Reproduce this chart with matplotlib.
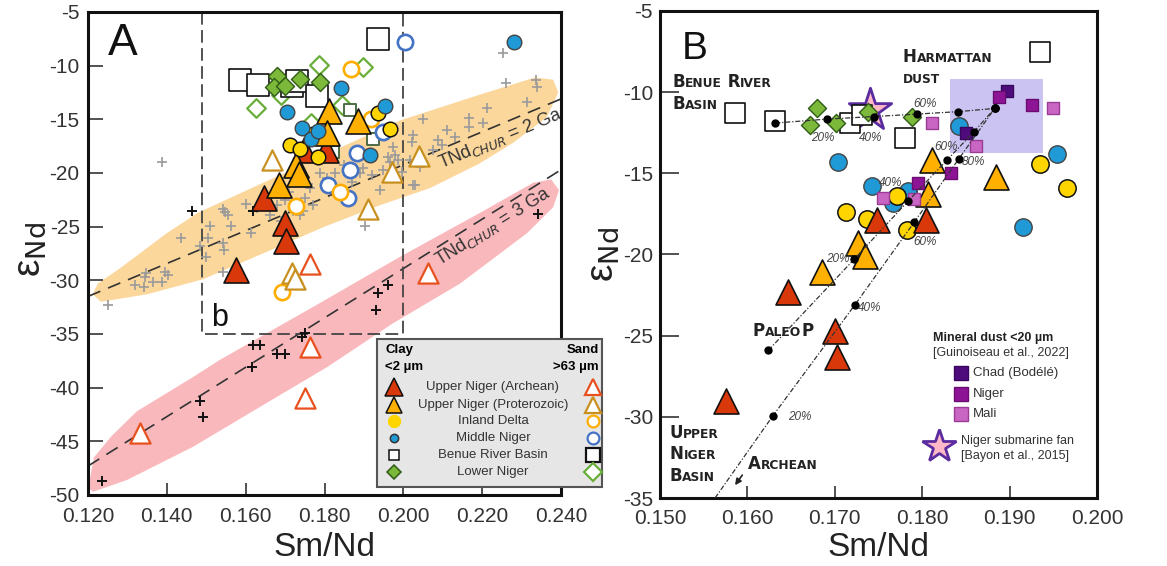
import matplotlib
matplotlib.use('Agg')
import matplotlib.pyplot as plt
from matplotlib.patches import Polygon, Rectangle
from matplotlib.offsetbox import TextArea, HPacker, AnnotationBbox

plt.rcParams['font.family'] = ['Liberation Sans', 'DejaVu Sans']
plt.rcParams['mathtext.fontset'] = 'dejavusans'
plt.rcParams['axes.unicode_minus'] = False

# ---------------- DATA ----------------
# Clay (<2 µm) fractions (both panels)
arch_clay_x = [0.1576, 0.1646, 0.1700, 0.1703, 0.1748, 0.1804]
arch_clay_y = [-29.0, -22.3, -24.7, -26.3, -17.9, -17.9]
prot_clay_x = [0.1811, 0.1885, 0.1807, 0.1727, 0.1735, 0.1685]
prot_clay_y = [-14.2, -15.2, -16.3, -19.3, -20.1, -21.1]
inland_clay_x = [0.1935, 0.1966, 0.1771, 0.1713, 0.1737, 0.1783]
inland_clay_y = [-14.4, -15.9, -16.4, -17.4, -17.8, -18.5]
middle_clay_x = [0.2280, 0.1842, 0.1704, 0.1743, 0.1767, 0.1784, 0.1954, 0.1915]
middle_clay_y = [-7.8, -12.1, -14.3, -15.8, -16.8, -16.1, -13.8, -18.3]
benue_clay_x = [0.1586, 0.1632, 0.1717, 0.1731, 0.1780, 0.1935]
benue_clay_y = [-11.3, -11.8, -11.9, -11.4, -12.8, -7.5]
lower_clay_x = [0.1680, 0.1672, 0.1701, 0.1738, 0.1788]
lower_clay_y = [-11.0, -12.0, -11.9, -11.2, -11.5]

# Sand (>63 µm) fractions (panel A)
arch_sand_x = [0.1763, 0.2063, 0.1332, 0.1763, 0.1750]
arch_sand_y = [-28.5, -29.3, -44.2, -36.2, -41.0]
prot_sand_x = [0.1667, 0.1971, 0.2040, 0.1910, 0.1718, 0.1725]
prot_sand_y = [-18.8, -19.9, -18.4, -23.4, -29.3, -29.9]
inland_sand_x = [0.1867, 0.1918, 0.1728, 0.1839, 0.1692]
inland_sand_y = [-10.3, -15.0, -23.1, -21.8, -31.1]
middle_sand_x = [0.2004, 0.1949, 0.1882, 0.1865, 0.1809, 0.1860]
middle_sand_y = [-7.8, -16.2, -18.1, -19.7, -21.1, -22.3]
benue_sand_x = [0.1865, 0.1923, 0.1822]
benue_sand_y = [-14.1, -16.8, -18.0]
lower_sand_x = [0.1786, 0.1898, 0.1626, 0.1690, 0.1845, 0.1766]
lower_sand_y = [-9.9, -10.1, -13.9, -12.7, -13.7, -15.3]

# Literature data (crosses, panel A)
gray_x = [0.1251, 0.1319, 0.1341, 0.1345, 0.1347, 0.1365, 0.1388, 0.1395, 0.1403, 0.1388,
          0.1436, 0.1484, 0.1500, 0.1505, 0.1510, 0.1543, 0.1555, 0.1563, 0.1543, 0.1545,
          0.1543, 0.1614, 0.1548, 0.1662, 0.1680, 0.1700, 0.1690, 0.1720, 0.1738, 0.1746,
          0.1751, 0.1763, 0.1771, 0.1751, 0.1758, 0.1789, 0.1806, 0.1827, 0.1850, 0.1870,
          0.1890, 0.1898, 0.1921, 0.1941, 0.1949, 0.1966, 0.1979, 0.1986, 0.1997, 0.1974,
          0.1903, 0.2024, 0.1961, 0.2017, 0.2042, 0.2050, 0.2024, 0.2022, 0.2075, 0.2088,
          0.2098, 0.2111, 0.2131, 0.2167, 0.2167, 0.2202, 0.2212, 0.2253, 0.2261, 0.2314,
          0.2337, 0.2339, 0.1600, 0.1630, 0.1650, 0.1710, 0.2030]
gray_y = [-32.3, -30.4, -30.6, -29.7, -29.3, -30.2, -30.2, -29.2, -29.5, -19.0,
          -26.1, -26.8, -27.8, -26.1, -24.9, -23.4, -23.9, -24.9, -26.5, -27.2,
          -29.2, -25.6, -23.6, -23.9, -23.0, -22.5, -24.5, -23.5, -23.9, -23.5,
          -22.3, -21.4, -23.0, -20.4, -21.0, -20.0, -20.5, -20.0, -19.3, -20.8,
          -20.0, -19.5, -20.2, -21.6, -19.7, -19.0, -18.3, -18.8, -19.9, -17.6,
          -24.9, -21.1, -18.5, -18.8, -19.4, -15.0, -16.5, -17.1, -17.9, -16.9,
          -17.4, -16.0, -16.6, -14.9, -15.7, -15.3, -13.9, -8.8, -11.6, -13.4,
          -11.3, -12.0, -22.9, -23.3, -22.0, -21.8, -21.1]
black_x = [0.1236, 0.1484, 0.1492, 0.1619, 0.1636, 0.1616, 0.1679, 0.1700, 0.1743, 0.1751,
           0.1931, 0.1936, 0.1961, 0.2342, 0.1464, 0.1618]
black_y = [-48.7, -41.2, -42.7, -36.0, -36.0, -38.1, -36.9, -36.9, -35.3, -34.9,
           -32.8, -31.2, -30.4, -23.8, -23.5, -23.5]

# TNd(CHUR) reference lines
tnd2_x = [0.120, 0.240]
tnd2_y = [-31.5, -13.1]
tnd3_x = [0.120, 0.240]
tnd3_y = [-47.3, -19.7]

# shaded fields (outline)
band2_x = [0.1225, 0.1284, 0.1400, 0.1479, 0.1639, 0.1800, 0.1992, 0.2194, 0.2334, 0.2380, 0.2393,
           0.2364, 0.2278, 0.2194, 0.2068, 0.1941, 0.1800, 0.1675, 0.1492, 0.1350, 0.1233, 0.1212]
band2_y = [-30.3, -28.8, -25.6, -23.7, -21.0, -18.3, -15.1, -12.7, -11.1, -11.3, -12.5,
           -14.8, -17.2, -19.1, -21.4, -23.0, -25.0, -27.0, -29.9, -31.3, -32.0, -31.3]
band3_x = [0.1205, 0.1215, 0.1260, 0.1324, 0.1467, 0.1535, 0.1789, 0.1992, 0.2200, 0.2330, 0.2375,
           0.2395, 0.2380, 0.2314, 0.2144, 0.1974, 0.1806, 0.1636, 0.1467, 0.1299, 0.1213, 0.1200]
band3_y = [-48.5, -46.5, -44.5, -42.2, -39.0, -37.4, -32.1, -27.8, -23.6, -20.9, -20.6,
           -21.6, -23.2, -25.6, -30.3, -34.0, -38.1, -41.8, -45.5, -48.6, -49.7, -49.3]

# zoom box b
boxb_x = [0.149, 0.200]
boxb_y = [-5.0, -35.0]

# Mineral dust (panel B)
chad_x = [0.1897, 0.1850]
chad_y = [-9.9, -12.5]
nigerdust_x = [0.1888, 0.1926, 0.1795, 0.1833]
nigerdust_y = [-10.3, -10.8, -15.6, -15.0]
mali_x = [0.1811, 0.1950, 0.1862, 0.1755, 0.1791]
mali_y = [-11.9, -11.0, -13.3, -16.5, -16.6]
fan_x = [0.1740]
fan_y = [-11.1]
harmattan_box_x = [0.1832, 0.1938]
harmattan_box_y = [-13.75, -9.2]

# Mixing curves (panel B)
mix_benue_x = [0.1632, 0.1691, 0.1745, 0.1794, 0.1841, 0.1883]
mix_benue_y = [-11.9, -11.66, -11.5, -11.35, -11.2, -11.0]
mix_paleo_x = [0.1624, 0.1722, 0.1784, 0.1828, 0.1859, 0.1883]
mix_paleo_y = [-25.9, -20.3, -16.7, -14.2, -12.45, -11.0]
mix_arch_x = [0.1563, 0.1629, 0.1723, 0.1791, 0.1842, 0.1883]
mix_arch_y = [-35.0, -29.95, -23.1, -18.0, -14.1, -11.0]
pct_labels = ["20%", "40%", "60%", "20%", "40%", "60%", "20%", "40%", "60%", "80%"]
pct_x = [0.1686, 0.1741, 0.1803, 0.1704, 0.1764, 0.1827, 0.1660, 0.1740, 0.1803, 0.1859]
pct_y = [-12.8, -12.8, -10.7, -20.3, -15.6, -13.4, -30.0, -23.3, -19.2, -14.3]

xticksA = [0.12, 0.14, 0.16, 0.18, 0.20, 0.22, 0.24]
xlabA = ["0.120", "0.140", "0.160", "0.180", "0.200", "0.220", "0.240"]
yticksA = [-5, -10, -15, -20, -25, -30, -35, -40, -45, -50]
xticksB = [0.15, 0.16, 0.17, 0.18, 0.19, 0.20]
xlabB = ["0.150", "0.160", "0.170", "0.180", "0.190", "0.200"]
yticksB = [-5, -10, -15, -20, -25, -30, -35]

legend_names = ["Upper Niger (Archean)", "Upper Niger (Proterozoic)", "Inland Delta",
                "Middle Niger", "Benue River Basin", "Lower Niger"]
dust_names = ["Chad (Bodélé)", "Niger", "Mali"]

# ---------------- STYLES ----------------
RED = '#D9380B'
ORG = '#FFB000'
YEL = '#FFD500'
BLU = '#1F9AD6'
GRN = '#7CB93A'
C_CHAD = '#4E0B7C'
C_NIG = '#8E1496'
C_MALI = '#C966C4'

fig = plt.figure(figsize=(11.67, 5.66), dpi=100)
axA = fig.add_axes([88 / 1167, 1 - 495 / 566, 473 / 1167, 483 / 566])
axB = fig.add_axes([660 / 1167, 1 - 498 / 566, 437 / 1167, 487 / 566])

for ax in (axA, axB):
    for sp in ax.spines.values():
        sp.set_linewidth(2.2)
        sp.set_color('#111111')
    ax.tick_params(direction='in', width=1.2, color='#333333', labelsize=15,
                   labelcolor='#333333')

def sc(ax, x, y, ms, marker, fc, ec, lw=1.1, z=5):
    ax.scatter(x, y, s=ms ** 2, marker=marker, facecolors=fc, edgecolors=ec,
               linewidths=lw, zorder=z)

# ---------------- PANEL A ----------------
axA.set_xlim(0.12, 0.24)
axA.set_ylim(-50, -5)
axA.add_patch(Polygon(list(zip(band2_x, band2_y)), closed=True, facecolor='#FCD79C',
                      edgecolor='none', zorder=0))
axA.add_patch(Polygon(list(zip(band3_x, band3_y)), closed=True, facecolor='#F9B9BC',
                      edgecolor='none', zorder=0))
axA.plot(tnd2_x, tnd2_y, color='#333333', lw=1.2, dashes=(8, 5), zorder=1)
axA.plot(tnd3_x, tnd3_y, color='#333333', lw=1.2, dashes=(8, 5), zorder=1)
axA.text(0.2245, -16.75, r'TNd$_{\mathit{CHUR}}$ = 2 Ga', rotation=22.5,
         rotation_mode='anchor', ha='center', va='center', fontsize=13, color='#333333', zorder=2)
axA.text(0.2228, -25.0, r'TNd$_{\mathit{CHUR}}$ = 3 Ga', rotation=32,
         rotation_mode='anchor', ha='center', va='center', fontsize=13, color='#333333', zorder=2)

# zoom box
axA.plot([boxb_x[0], boxb_x[0], boxb_x[1], boxb_x[1]],
         [boxb_y[0], boxb_y[1], boxb_y[1], boxb_y[0]],
         color='#444444', lw=1.3, dashes=(7, 3), zorder=1, clip_on=False)
axA.text(0.1512, -34.3, 'b', fontsize=22, color='#111111', ha='left', va='baseline')
axA.text(0.1251, -9.0, 'A', fontsize=32, color='#111111', ha='left', va='baseline')

axA.scatter(gray_x, gray_y, s=7 ** 2, marker='+', color='#9A9A9A', linewidths=1.2, zorder=2)
axA.scatter(black_x, black_y, s=7 ** 2, marker='+', color='#111111', linewidths=1.4, zorder=2)

# sand (open)
sc(axA, lower_sand_x, lower_sand_y, 9.5, 'D', 'white', '#6AAE3A', 1.6, 3)
sc(axA, benue_sand_x, benue_sand_y, 9, 's', 'white', '#4D6B45', 1.4, 3)
sc(axA, middle_sand_x, middle_sand_y, 11, 'o', 'white', '#4472C4', 1.9, 3)
sc(axA, inland_sand_x, inland_sand_y, 11, 'o', 'white', '#FFAE00', 1.9, 3)
sc(axA, prot_sand_x, prot_sand_y, 14.5, '^', 'white', '#C8901E', 1.6, 3)
sc(axA, arch_sand_x, arch_sand_y, 14.5, '^', 'white', '#E8501E', 1.6, 3)
# clay (filled)
sc(axA, benue_clay_x, benue_clay_y, 16.5, 's', 'white', '#111111', 1.2, 4)
sc(axA, arch_clay_x, arch_clay_y, 18, '^', RED, '#111111', 1.2, 5)
sc(axA, prot_clay_x, prot_clay_y, 18, '^', ORG, '#111111', 1.2, 5)
sc(axA, inland_clay_x, inland_clay_y, 10.5, 'o', YEL, '#111111', 1.1, 6)
sc(axA, middle_clay_x, middle_clay_y, 10.5, 'o', BLU, '#444444', 1.0, 6)
sc(axA, lower_clay_x, lower_clay_y, 9.2, 'D', GRN, '#2F5A17', 1.0, 7)

axA.set_xticks(xticksA)
axA.set_xticklabels(xlabA)
axA.set_yticks(yticksA)
axA.tick_params(axis='x', length=9, pad=9)
axA.tick_params(axis='y', length=11, pad=6)

# legend A (manual)
axA.add_patch(Rectangle((0.611, 0.0166), 0.476, 0.3064, transform=axA.transAxes,
                        facecolor='#E6E6E6', edgecolor='#555555', lw=1.5,
                        clip_on=False, zorder=20))
lt = dict(transform=axA.transAxes, zorder=21, clip_on=False)
axA.text(0.628, 0.300, 'Clay', fontsize=9.5, fontweight='bold', ha='left', va='center', **lt)
axA.text(0.628, 0.264, '<2 µm', fontsize=9.5, fontweight='bold', ha='left', va='center', **lt)
axA.text(1.080, 0.300, 'Sand', fontsize=9.5, fontweight='bold', ha='right', va='center', **lt)
axA.text(1.080, 0.264, '>63 µm', fontsize=9.5, fontweight='bold', ha='right', va='center', **lt)
rows = [0.2236, 0.1863, 0.1532, 0.1180, 0.0828, 0.0476]
clay_leg = [('^', 13, RED, '#111111'), ('^', 12, ORG, '#111111'), ('o', 8.5, YEL, YEL),
            ('o', 6, BLU, '#333333'), ('s', 6.5, 'white', '#111111'), ('D', 7.5, GRN, '#2F5A17')]
sand_leg = [('^', 12, 'white', '#E8501E'), ('^', 11, 'white', '#C8901E'), ('o', 8.5, 'white', '#FFAE00'),
            ('o', 8.5, 'white', '#4472C4'), ('s', 9.5, 'white', '#111111'), ('D', 9, 'white', '#6AAE3A')]
for i, name in enumerate(legend_names):
    m, s, fc, ec = clay_leg[i]
    axA.plot([0.647], [rows[i]], marker=m, ms=s, mfc=fc, mec=ec, mew=1.1, ls='none', **lt)
    m, s, fc, ec = sand_leg[i]
    axA.plot([1.067], [rows[i]], marker=m, ms=s, mfc=fc, mec=ec, mew=1.6, ls='none', **lt)
    axA.text(0.856, rows[i], name, fontsize=9.5, color='#333333', ha='center', va='center', **lt)

# ---------------- PANEL B ----------------
axB.set_xlim(0.15, 0.20)
axB.set_ylim(-35, -5)
axB.add_patch(Rectangle((harmattan_box_x[0], harmattan_box_y[0]),
                        harmattan_box_x[1] - harmattan_box_x[0],
                        harmattan_box_y[1] - harmattan_box_y[0],
                        facecolor='#CBC4F3', edgecolor='none', zorder=0))

sc(axB, fan_x, fan_y, 32, '*', '#FFB8C6', '#5A2CA0', 2.0, 2)
sc(axB, benue_clay_x, benue_clay_y, 14.5, 's', 'white', '#111111', 1.2, 3)
sc(axB, lower_clay_x, lower_clay_y, 9.2, 'D', GRN, '#2F5A17', 1.0, 4)
sc(axB, middle_clay_x, middle_clay_y, 12.5, 'o', BLU, '#444444', 1.0, 4)
sc(axB, inland_clay_x, inland_clay_y, 12.5, 'o', YEL, '#111111', 1.1, 4)
sc(axB, arch_clay_x, arch_clay_y, 18, '^', RED, '#111111', 1.2, 5)
sc(axB, prot_clay_x, prot_clay_y, 18, '^', ORG, '#111111', 1.2, 5)
sc(axB, chad_x, chad_y, 9, 's', C_CHAD, '#3A0760', 1.0, 6)
sc(axB, nigerdust_x, nigerdust_y, 9, 's', C_NIG, '#6A0C70', 1.0, 6)
sc(axB, mali_x, mali_y, 9, 's', C_MALI, '#9A3C96', 1.0, 6)

for mx, my, dots in ((mix_benue_x, mix_benue_y, True), (mix_paleo_x, mix_paleo_y, True),
                     (mix_arch_x, mix_arch_y, False)):
    axB.plot(mx, my, color='#333333', lw=0.9, dashes=(4, 1.5, 1, 1.5), zorder=7)
    if dots:
        axB.plot(mx, my, 'o', color='#000000', ms=5, zorder=8)
    else:
        axB.plot(mx[1:], my[1:], 'o', color='#000000', ms=5, zorder=8)
for t, x, y in zip(pct_labels, pct_x, pct_y):
    axB.text(x, y, t, fontsize=8.5, style='italic', color='#444444', ha='center',
             va='center', zorder=9)

axB.annotate('', xy=(0.1584, -34.35), xytext=(0.1596, -33.45),
             arrowprops=dict(arrowstyle='-|>', color='#222222', lw=1.2, mutation_scale=9),
             zorder=9)

def smallcaps(ax, x, y, s, big=12, small=8.8):
    runs = []
    for ch in s:
        kind = 'big' if (ch.isupper() or ch == ' ') else 'small'
        if runs and runs[-1][0] == kind:
            runs[-1][1] += ch
        else:
            runs.append([kind, ch])
    kids = [TextArea(txt.upper(), textprops=dict(fontsize=(big if k == 'big' else small),
                                                  fontweight='bold', family='DejaVu Sans',
                                                  color='#222222'))
            for k, txt in runs]
    box = HPacker(children=kids, align='baseline', pad=0, sep=0)
    ab = AnnotationBbox(box, (x, y), xycoords='data', box_alignment=(0, 0),
                        frameon=False, pad=0, annotation_clip=False, zorder=10)
    ax.add_artist(ab)

smallcaps(axB, 0.1514, -9.93, 'Benue River')
smallcaps(axB, 0.1514, -11.28, 'Basin')
smallcaps(axB, 0.1778, -8.39, 'Harmattan')
smallcaps(axB, 0.1778, -9.62, 'dust')
smallcaps(axB, 0.1606, -25.27, 'PaleoP')
smallcaps(axB, 0.1511, -31.57, 'Upper')
smallcaps(axB, 0.1511, -32.86, 'Niger')
smallcaps(axB, 0.1511, -34.22, 'Basin')
smallcaps(axB, 0.1601, -33.44, 'Archean')

axB.text(0.1525, -7.96, 'B', fontsize=28, color='#111111', ha='left', va='baseline')

axB.set_xticks(xticksB)
axB.set_xticklabels(xlabB)
axB.set_yticks(yticksB)
axB.tick_params(axis='x', length=9, pad=8)
axB.tick_params(axis='y', length=14, pad=5)

# legend B (manual)
lb = dict(transform=axB.transAxes, zorder=12, clip_on=False)
axB.text(0.625, 0.3285, 'Mineral dust <20 µm', fontsize=9, fontweight='bold',
         color='#222222', ha='left', va='center', **lb)
axB.text(0.625, 0.2977, '[Guinoiseau et al., 2022]', fontsize=9, color='#333333',
         ha='left', va='center', **lb)
dust_cols = [(C_CHAD, '#3A0760'), (C_NIG, '#6A0C70'), (C_MALI, '#9A3C96')]
dust_rows = [0.2567, 0.2136, 0.1725]
for name, (fc, ec), yy in zip(dust_names, dust_cols, dust_rows):
    axB.plot([0.689], [yy], marker='s', ms=9.6, mfc=fc, mec=ec, mew=1.0, ls='none', **lb)
    axB.text(0.716, yy, name, fontsize=9.5, color='#333333', ha='left', va='center', **lb)
axB.plot([0.638], [0.1068], marker='*', ms=25, mfc='#FFB8C6', mec='#5A2CA0', mew=2.0,
         ls='none', **lb)
axB.text(0.689, 0.117, 'Niger submarine fan', fontsize=9, color='#333333', ha='left',
         va='center', **lb)
axB.text(0.689, 0.0862, '[Bayon et al., 2015]', fontsize=9, color='#333333', ha='left',
         va='center', **lb)

# axis labels
fig.text(324 / 1167, 1 - 548 / 566, 'Sm/Nd', fontsize=24, color='#222222', ha='center', va='center')
fig.text(878 / 1167, 1 - 548 / 566, 'Sm/Nd', fontsize=24, color='#222222', ha='center', va='center')
fig.text(30 / 1167, 1 - 250 / 566, r'ε$_{\mathrm{Nd}}$', fontsize=28, color='#222222',
         ha='center', va='center', rotation=90)
fig.text(603 / 1167, 1 - 255 / 566, r'ε$_{\mathrm{Nd}}$', fontsize=28, color='#222222',
         ha='center', va='center', rotation=90)

fig.savefig('out.png', dpi=100, facecolor='white')
